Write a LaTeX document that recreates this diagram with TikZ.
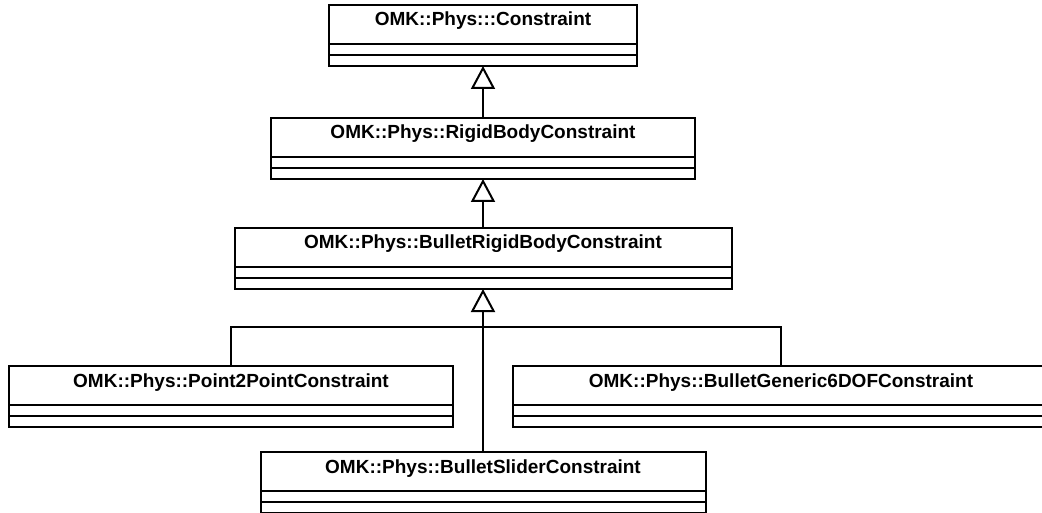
\documentclass[tikz,border=0pt]{standalone}
\usepackage{fontspec}
\setmainfont{Liberation Sans}
\usetikzlibrary{positioning,arrows.meta}

\begin{document}
\begin{tikzpicture}[x=1pt, y=1pt,
  classname/.style={draw, line width=2pt, outer sep=0pt, anchor=north,
    minimum height=39pt, inner xsep=4pt, inner ysep=2.5pt,
    text height=18.5pt, text depth=15.5pt,
    font=\fontsize{19}{22}\selectfont\bfseries},
  classpart/.style={draw, line width=2pt, outer sep=0pt, inner sep=0pt,
    minimum height=11pt},
  inherit/.style={line width=2pt, -{Triangle[open, length=23pt, width=24pt]}},
  link/.style={line width=2pt}]

\useasboundingbox (0,0) rectangle (1042,-513);

\node[classname, minimum width=308pt] (c1) at (483,-5) {OMK::Phys:::Constraint};
\node[classpart, minimum width=308pt, below=0pt of c1] (c1a) {};
\node[classpart, minimum width=308pt, below=0pt of c1a] (c1b) {};

\node[classname, minimum width=424pt] (c2) at (483,-118) {OMK::Phys::RigidBodyConstraint};
\node[classpart, minimum width=424pt, below=0pt of c2] (c2a) {};
\node[classpart, minimum width=424pt, below=0pt of c2a] (c2b) {};

\node[classname, minimum width=497pt] (c3) at (483,-228) {OMK::Phys::BulletRigidBodyConstraint};
\node[classpart, minimum width=497pt, below=0pt of c3] (c3a) {};
\node[classpart, minimum width=497pt, below=0pt of c3a] (c3b) {};

\node[classname, minimum width=444pt] (c4) at (231,-366) {OMK::Phys::Point2PointConstraint};
\node[classpart, minimum width=444pt, below=0pt of c4] (c4a) {};
\node[classpart, minimum width=444pt, below=0pt of c4a] (c4b) {};

\node[classname, minimum width=536pt] (c5) at (781,-366) {OMK::Phys::BulletGeneric6DOFConstraint};
\node[classpart, minimum width=536pt, below=0pt of c5] (c5a) {};
\node[classpart, minimum width=536pt, below=0pt of c5a] (c5b) {};

\node[classname, minimum width=445pt] (c6) at (483,-452) {OMK::Phys::BulletSliderConstraint};
\node[classpart, minimum width=445pt, below=0pt of c6] (c6a) {};
\node[classpart, minimum width=445pt, below=0pt of c6a] (c6b) {};

% inheritance
\draw[inherit] (c2.north) -- (c1b.south);
\draw[inherit] (c3.north) -- (c2b.south);
\draw[inherit] (c6.north) -- (c3b.south);
\coordinate (fork) at (483,-327);
\draw[link] (c4.north) |- (fork) -| (c5.north);

\end{tikzpicture}
\end{document}
